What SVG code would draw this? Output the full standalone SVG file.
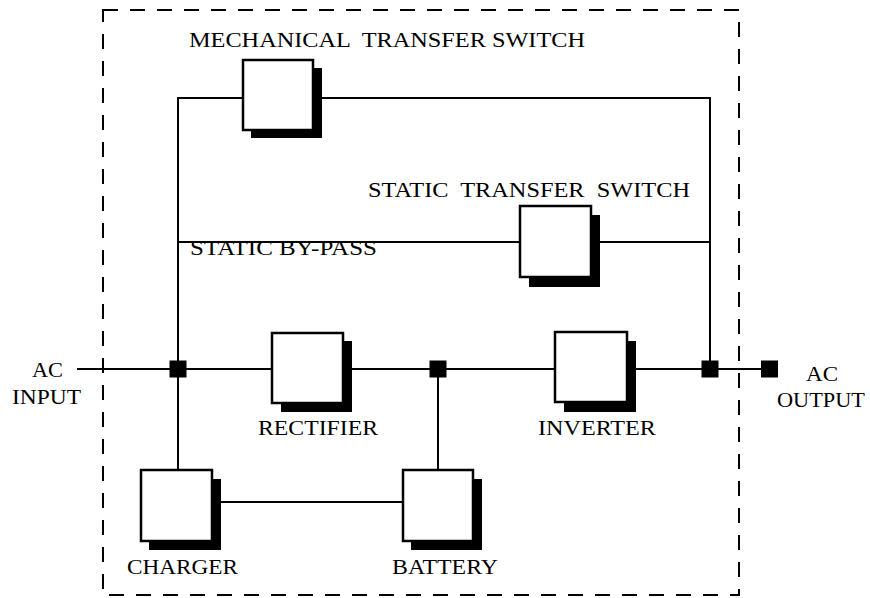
<svg xmlns="http://www.w3.org/2000/svg" width="870" height="598" viewBox="0 0 870 598">
<style>
.frame{fill:none;stroke:#000;stroke-width:2;stroke-dasharray:15 12}
.wire{fill:none;stroke:#000;stroke-width:2}
.box{fill:#fff;stroke:#000;stroke-width:2.5}
.shadow{fill:#000}
.jn{fill:#000}
text{font-family:"Liberation Serif","Times New Roman",serif;font-size:21.5px;fill:#000;white-space:pre}
</style>
<rect class="frame" x="103" y="10" width="636" height="585"/>
<g id="connectors">
<path class="wire" d="M178 470 V98 H243"/>
<path class="wire" d="M313 98 H710 V369"/>
<path class="wire" d="M178 242 H520"/>
<path class="wire" d="M591 242 H710"/>
<path class="wire" d="M77 369 H272"/>
<path class="wire" d="M343 369 H555"/>
<path class="wire" d="M627 369 H769"/>
<path class="wire" d="M438 369 V470"/>
<path class="wire" d="M212 502 H403"/>
<rect class="jn" x="169.5" y="360.5" width="17" height="17"/>
<rect class="jn" x="429.5" y="360.5" width="17" height="17"/>
<rect class="jn" x="701.5" y="360.5" width="17" height="17"/>
<rect class="jn" x="761" y="360.5" width="17" height="17"/>
</g>
<g id="mts">
<rect class="shadow" x="251" y="68" width="71" height="70"/>
<rect class="box" x="243" y="60" width="70" height="70"/>
<text x="189" y="47" textLength="396" lengthAdjust="spacingAndGlyphs">MECHANICAL  TRANSFER SWITCH</text>
</g>
<g id="sts">
<rect class="shadow" x="529" y="215" width="71" height="72"/>
<rect class="box" x="520" y="206" width="71" height="71"/>
<text x="368" y="197" textLength="322" lengthAdjust="spacingAndGlyphs">STATIC  TRANSFER  SWITCH</text>
</g>
<text id="bypass" x="190" y="255" textLength="187" lengthAdjust="spacingAndGlyphs">STATIC BY-PASS</text>
<g id="rectifier">
<rect class="shadow" x="281" y="341" width="71" height="71"/>
<rect class="box" x="272" y="333" width="71" height="70"/>
<text x="258" y="435" textLength="120" lengthAdjust="spacingAndGlyphs">RECTIFIER</text>
</g>
<g id="inverter">
<rect class="shadow" x="564" y="341" width="72" height="71"/>
<rect class="box" x="555" y="332" width="72" height="70"/>
<text x="538" y="435" textLength="118" lengthAdjust="spacingAndGlyphs">INVERTER</text>
</g>
<g id="charger">
<rect class="shadow" x="149" y="479" width="72" height="71"/>
<rect class="box" x="141" y="470" width="71" height="71"/>
<text x="127" y="574" textLength="111" lengthAdjust="spacingAndGlyphs">CHARGER</text>
</g>
<g id="battery">
<rect class="shadow" x="411" y="479" width="71" height="71"/>
<rect class="box" x="403" y="470" width="70" height="71"/>
<text x="392" y="574" textLength="106" lengthAdjust="spacingAndGlyphs">BATTERY</text>
</g>
<g id="ac-input">
<text x="32" y="377" textLength="31" lengthAdjust="spacingAndGlyphs">AC</text>
<text x="12" y="404" textLength="69" lengthAdjust="spacingAndGlyphs">INPUT</text>
</g>
<g id="ac-output">
<text x="806" y="381" textLength="32" lengthAdjust="spacingAndGlyphs">AC</text>
<text x="777" y="407" textLength="88" lengthAdjust="spacingAndGlyphs">OUTPUT</text>
</g>
</svg>
